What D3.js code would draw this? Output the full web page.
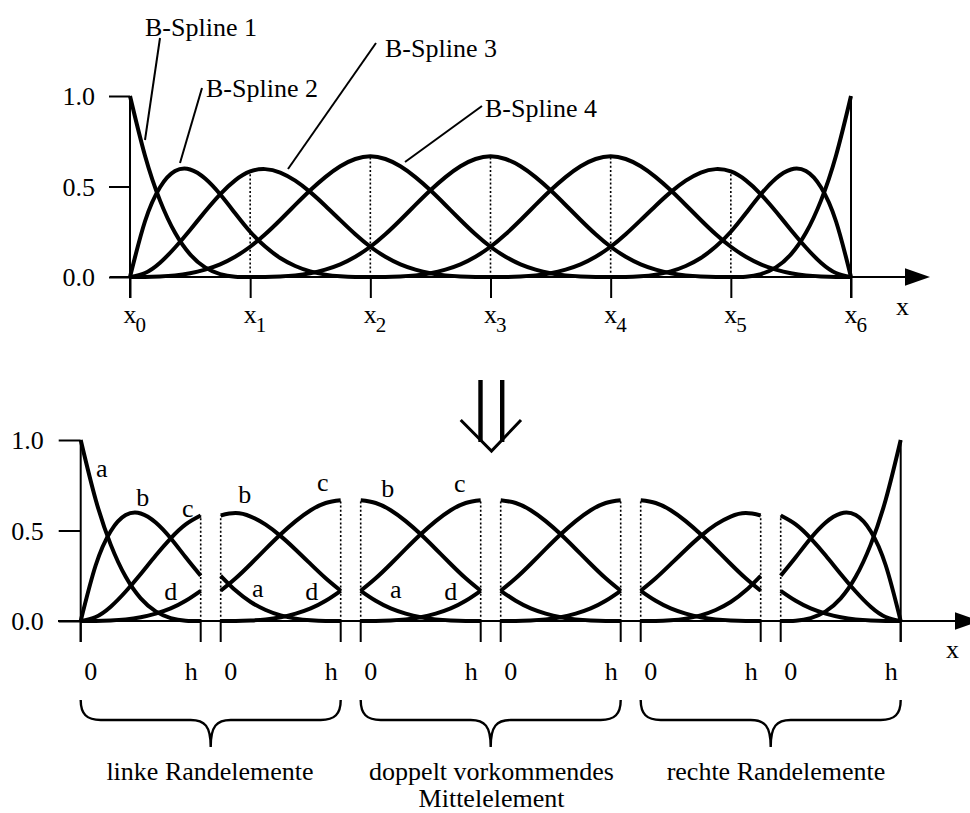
<!DOCTYPE html>
<html>
<head>
<meta charset="utf-8">
<script src="https://cdn.jsdelivr.net/npm/d3@7"></script>
<style>
body { margin: 0; background: #fff; }
text { font-family: "Liberation Serif", "Times New Roman", serif; fill: #000; }
</style>
</head>
<body>
<script>
// knot indices (x0 ... x6) and y tick values
var knots = [0, 1, 2, 3, 4, 5, 6];
var yTicks = [0, 0.5, 1.0];

// sample positions inside one element, 0 ... h
var uSteps = [0, 0.125, 0.25, 0.375, 0.5, 0.625, 0.75, 0.875, 1];

// the four spline pieces (a, b, c, d) that live on each element
var elem1 = [
	[1.000, 0.670, 0.422, 0.244, 0.125, 0.053, 0.016, 0.002, 0.000],
	[0.000, 0.308, 0.496, 0.585, 0.594, 0.544, 0.457, 0.352, 0.250],
	[0.000, 0.022, 0.079, 0.163, 0.260, 0.362, 0.457, 0.534, 0.583],
	[0.000, 0.000, 0.003, 0.009, 0.021, 0.041, 0.070, 0.112, 0.167]
];
var elem2 = [
	[0.250, 0.168, 0.105, 0.061, 0.031, 0.013, 0.004, 0.000, 0.000],
	[0.583, 0.596, 0.577, 0.532, 0.469, 0.394, 0.314, 0.236, 0.167],
	[0.167, 0.236, 0.315, 0.398, 0.479, 0.552, 0.612, 0.652, 0.667],
	[0.000, 0.000, 0.003, 0.009, 0.021, 0.041, 0.070, 0.112, 0.167]
];
var elem3 = [
	[0.167, 0.112, 0.070, 0.041, 0.021, 0.009, 0.003, 0.000, 0.000],
	[0.667, 0.652, 0.612, 0.552, 0.479, 0.398, 0.315, 0.236, 0.167],
	[0.167, 0.236, 0.315, 0.398, 0.479, 0.552, 0.612, 0.652, 0.667],
	[0.000, 0.000, 0.003, 0.009, 0.021, 0.041, 0.070, 0.112, 0.167]
];
var elem4 = [
	[0.167, 0.112, 0.070, 0.041, 0.021, 0.009, 0.003, 0.000, 0.000],
	[0.667, 0.652, 0.612, 0.552, 0.479, 0.398, 0.315, 0.236, 0.167],
	[0.167, 0.236, 0.315, 0.398, 0.479, 0.552, 0.612, 0.652, 0.667],
	[0.000, 0.000, 0.003, 0.009, 0.021, 0.041, 0.070, 0.112, 0.167]
];
var elem5 = [
	[0.167, 0.112, 0.070, 0.041, 0.021, 0.009, 0.003, 0.000, 0.000],
	[0.667, 0.652, 0.612, 0.552, 0.479, 0.398, 0.315, 0.236, 0.167],
	[0.167, 0.236, 0.314, 0.394, 0.469, 0.532, 0.577, 0.596, 0.583],
	[0.000, 0.000, 0.004, 0.013, 0.031, 0.061, 0.105, 0.168, 0.250]
];
var elem6 = [
	[0.167, 0.112, 0.070, 0.041, 0.021, 0.009, 0.003, 0.000, 0.000],
	[0.583, 0.534, 0.457, 0.362, 0.260, 0.163, 0.079, 0.022, 0.000],
	[0.250, 0.352, 0.457, 0.544, 0.594, 0.585, 0.496, 0.308, 0.000],
	[0.000, 0.002, 0.016, 0.053, 0.125, 0.244, 0.422, 0.670, 1.000]
];
var elements = [elem1, elem2, elem3, elem4, elem5, elem6];

var splineNames = ["B-Spline 1", "B-Spline 2", "B-Spline 3", "B-Spline 4"];
var pieceNames = ["a", "b", "c", "d"];
var groupNames = [["linke Randelemente"], ["doppelt vorkommendes", "Mittelelement"], ["rechte Randelemente"]];

//Create SVG
var svg = d3.select("body")
	.append("svg")
	.attr("width", 970)
	.attr("height", 813);

var curveW = 4, axisW = 2;

//Scales
var xTop = d3.scaleLinear().domain([0, 6]).range([130, 851]);
var yTop = d3.scaleLinear().domain([0, 1]).range([277, 96]);
var yBot = d3.scaleLinear().domain([0, 1]).range([621, 440]);
var xBand = d3.scaleBand()
	.domain(elements.map(function(d, i){ return i; }))
	.range([80.7, 900.7])
	.paddingInner(1/7)
	.paddingOuter(0);
var xEl = d3.scaleLinear().domain([0, 1]).range([0, xBand.bandwidth()]);

//Collect the pieces of every spline for the upper picture
var splines = [];
for (var s = 0; s < elements.length + 3; s++) splines.push([]);
elements.forEach(function(el, k){
	el.forEach(function(vals, j){
		var pts = splines[k + j];
		vals.forEach(function(v, i){
			var t = k + uSteps[i];
			if (pts.length && pts[pts.length - 1][0] === t) return;
			pts.push([t, v]);
		});
	});
});

/* ---------- upper picture ---------- */
var upper = svg.append("g");

// y axis with ticks
var yAxisTop = d3.axisLeft(yTop)
	.tickValues(yTicks)
	.tickFormat(d3.format(".1f"))
	.tickSize(21)
	.tickPadding(14);
var gy = upper.append("g").attr("transform", "translate(130,0)").call(yAxisTop);
gy.select(".domain").remove();
gy.selectAll("line").attr("stroke", "#000").attr("stroke-width", axisW);
gy.selectAll("text").style("font-size", "26px").attr("dy", "0.33em");

upper.append("line")
	.attr("x1", xTop(0)).attr("x2", xTop(0))
	.attr("y1", yTop(1)).attr("y2", yTop(0) + 21)
	.attr("stroke", "#000").attr("stroke-width", axisW);
upper.append("line")
	.attr("x1", xTop(6)).attr("x2", xTop(6))
	.attr("y1", yTop(1)).attr("y2", yTop(0) + 21)
	.attr("stroke", "#000").attr("stroke-width", axisW);

// x axis ticks at the knots
var xAxisTop = d3.axisBottom(xTop)
	.tickValues(knots)
	.tickFormat("")
	.tickSize(21);
var gx = upper.append("g").attr("transform", "translate(0," + yTop(0) + ")").call(xAxisTop);
gx.select(".domain").remove();
gx.selectAll("line").attr("stroke", "#000").attr("stroke-width", axisW);

upper.append("line")
	.attr("x1", 110).attr("x2", 906)
	.attr("y1", yTop(0)).attr("y2", yTop(0))
	.attr("stroke", "#000").attr("stroke-width", axisW);
upper.append("path")
	.attr("d", "M905," + (yTop(0) - 8.7) + "L930," + yTop(0) + "L905," + (yTop(0) + 8.7) + "Z")
	.attr("fill", "#000");

// knot labels x_i
var kl = upper.selectAll(".knot")
	.data(knots)
	.enter()
	.append("text")
	.attr("class", "knot")
	.attr("x", function(d){ return xTop(d) - 6.5; })
	.attr("y", 323)
	.style("font-size", "26px");
kl.append("tspan").text("x");
kl.append("tspan")
	.attr("dx", -1)
	.attr("dy", 9)
	.style("font-size", "21px")
	.text(function(d){ return d; });

upper.append("text")
	.attr("x", 902.5).attr("y", 315)
	.attr("text-anchor", "middle")
	.style("font-size", "26px")
	.text("x");

// dotted lines at the inner knots
upper.selectAll(".dots")
	.data(knots.slice(1, 6))
	.enter()
	.append("line")
	.attr("x1", function(d){ return xTop(d); })
	.attr("x2", function(d){ return xTop(d); })
	.attr("y1", yTop(0))
	.attr("y2", function(d){ return yTop(d3.max(elements[d - 1], function(p){ return p[8]; })); })
	.attr("stroke", "#000")
	.attr("stroke-width", 1.6)
	.attr("stroke-dasharray", "2,2.2");

// the B-splines
var lineTop = d3.line()
	.x(function(d){ return xTop(d[0]); })
	.y(function(d){ return yTop(d[1]); })
	.curve(d3.curveNatural);
upper.selectAll(".spline")
	.data(splines)
	.enter()
	.append("path")
	.attr("d", lineTop)
	.attr("fill", "none")
	.attr("stroke", "#000")
	.attr("stroke-width", curveW)
	.attr("stroke-linejoin", "round");

// spline names with leader lines
var callouts = [
	{ tx: 145, ty: 36, l: [160, 38, 145, 140] },
	{ tx: 206, ty: 97, l: [202, 88, 180, 163] },
	{ tx: 385, ty: 57, l: [376, 43, 288, 169] },
	{ tx: 485, ty: 117, l: [482, 106, 405, 162] }
];
callouts.forEach(function(c, i){
	upper.append("line")
		.attr("x1", c.l[0]).attr("y1", c.l[1])
		.attr("x2", c.l[2]).attr("y2", c.l[3])
		.attr("stroke", "#000").attr("stroke-width", 2);
	upper.append("text")
		.attr("x", c.tx).attr("y", c.ty)
		.style("font-size", "26px")
		.text(splineNames[i]);
});

/* ---------- double arrow ---------- */
svg.append("rect").attr("x", 478.3).attr("y", 380).attr("width", 4.4).attr("height", 62).attr("fill", "#000");
svg.append("rect").attr("x", 500).attr("y", 380).attr("width", 4.4).attr("height", 62).attr("fill", "#000");
svg.append("path")
	.attr("d", "M460.7,420L491.5,451L521,420")
	.attr("fill", "none")
	.attr("stroke", "#000")
	.attr("stroke-width", 3);

/* ---------- lower picture ---------- */
var lower = svg.append("g");

var yAxisBot = d3.axisLeft(yBot)
	.tickValues(yTicks)
	.tickFormat(d3.format(".1f"))
	.tickSize(22)
	.tickPadding(15);
var gyb = lower.append("g").attr("transform", "translate(" + xBand(0) + ",0)").call(yAxisBot);
gyb.select(".domain").remove();
gyb.selectAll("line").attr("stroke", "#000").attr("stroke-width", axisW);
gyb.selectAll("text").style("font-size", "26px").attr("dy", "0.33em");

lower.append("line")
	.attr("x1", xBand(0)).attr("x2", xBand(0))
	.attr("y1", yBot(1)).attr("y2", yBot(0) + 21)
	.attr("stroke", "#000").attr("stroke-width", axisW);
lower.append("line")
	.attr("x1", xBand(5) + xEl(1)).attr("x2", xBand(5) + xEl(1))
	.attr("y1", yBot(1)).attr("y2", yBot(0) + 21)
	.attr("stroke", "#000").attr("stroke-width", axisW);

lower.append("line")
	.attr("x1", 58).attr("x2", 956)
	.attr("y1", yBot(0)).attr("y2", yBot(0))
	.attr("stroke", "#000").attr("stroke-width", axisW);
lower.append("path")
	.attr("d", "M955," + (yBot(0) - 8.7) + "L980," + yBot(0) + "L955," + (yBot(0) + 8.7) + "Z")
	.attr("fill", "#000");
lower.append("text")
	.attr("x", 952.5).attr("y", 658)
	.attr("text-anchor", "middle")
	.style("font-size", "26px")
	.text("x");

elements.forEach(function(el, k){
	var x0 = xBand(k);
	var g = lower.append("g").attr("transform", "translate(" + x0 + ",0)");

	// ticks at both element ends, labels 0 and h
	[0, 1].forEach(function(u){
		g.append("line")
			.attr("x1", xEl(u)).attr("x2", xEl(u))
			.attr("y1", yBot(0)).attr("y2", yBot(0) + 21)
			.attr("stroke", "#000").attr("stroke-width", axisW);
		g.append("text")
			.attr("x", u === 0 ? xEl(u) + 10 : xEl(u) - 9.5)
			.attr("y", 680)
			.attr("text-anchor", "middle")
			.style("font-size", "26px")
			.text(u === 0 ? "0" : "h");
		// dotted cut lines
		if ((u === 0 && k > 0) || (u === 1 && k < elements.length - 1)) {
			var idx = u === 0 ? 0 : uSteps.length - 1;
			g.append("line")
				.attr("x1", xEl(u)).attr("x2", xEl(u))
				.attr("y1", yBot(0))
				.attr("y2", yBot(d3.max(el, function(p){ return p[idx]; })))
				.attr("stroke", "#000")
				.attr("stroke-width", 1.6)
				.attr("stroke-dasharray", "2,2.2");
		}
	});

	var lineBot = d3.line()
		.x(function(v, i){ return xEl(uSteps[i]); })
		.y(function(v){ return yBot(v); })
		.curve(d3.curveNatural);
	g.selectAll(".piece")
		.data(el)
		.enter()
		.append("path")
		.attr("d", lineBot)
		.attr("fill", "none")
		.attr("stroke", "#000")
		.attr("stroke-width", curveW)
		.attr("stroke-linejoin", "round");
});

// letters a-d on the first three elements
var letterPos = [
	[0, 0, 21, 477], [0, 1, 62, 506], [0, 2, 107, 517], [0, 3, 90, 600],
	[1, 0, 37, 597], [1, 1, 24, 503], [1, 2, 102, 491], [1, 3, 91, 600],
	[2, 0, 35, 598], [2, 1, 27, 497], [2, 2, 99, 492], [2, 3, 90, 600]
];
lower.selectAll(".letter")
	.data(letterPos)
	.enter()
	.append("text")
	.attr("x", function(d){ return xBand(d[0]) + d[2]; })
	.attr("y", function(d){ return d[3]; })
	.attr("text-anchor", "middle")
	.style("font-size", "26px")
	.text(function(d){ return pieceNames[d[1]]; });

// braces below pairs of elements
function brace(x1, x2) {
	var y0 = 700, ym = 720, yt = 747, cx = (x1 + x2) / 2;
	return "M" + x1 + "," + y0 +
		"C" + x1 + "," + (y0 + 14) + " " + (x1 + 6) + "," + ym + " " + (x1 + 20) + "," + ym +
		"L" + (cx - 20) + "," + ym +
		"C" + (cx - 6) + "," + ym + " " + cx + "," + (ym + 6) + " " + cx + "," + yt +
		"C" + cx + "," + (ym + 6) + " " + (cx + 6) + "," + ym + " " + (cx + 20) + "," + ym +
		"L" + (x2 - 20) + "," + ym +
		"C" + (x2 - 6) + "," + ym + " " + x2 + "," + (y0 + 14) + " " + x2 + "," + y0;
}
var textCx = [210, 491.5, 776];
groupNames.forEach(function(lines, gi){
	var x1 = xBand(gi * 2), x2 = xBand(gi * 2 + 1) + xEl(1);
	lower.append("path")
		.attr("d", brace(x1, x2))
		.attr("fill", "none")
		.attr("stroke", "#000")
		.attr("stroke-width", 2.4);
	lines.forEach(function(t, li){
		lower.append("text")
			.attr("x", textCx[gi])
			.attr("y", 780 + li * 27)
			.attr("text-anchor", "middle")
			.style("font-size", "26px")
			.text(t);
	});
});
</script>
</body>
</html>
